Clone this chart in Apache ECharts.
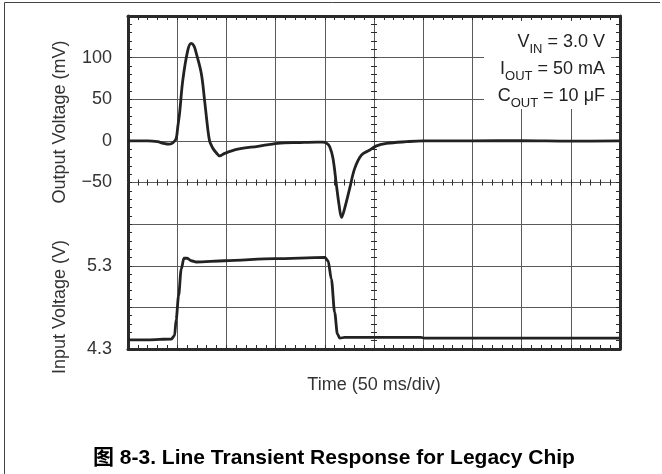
<!DOCTYPE html>
<html>
<head>
<meta charset="utf-8">
<script src="https://cdn.jsdelivr.net/npm/echarts@6/dist/echarts.min.js"></script>
<style>
html,body{margin:0;padding:0;background:#fff;}
#chart{width:662px;height:474px;}
</style>
</head>
<body>
<div id="chart"></div>
<script>
// ---- data (time in ms, 50 ms/div) ----
const outTime = [0, 20, 30, 36, 42, 46, 49, 50.6, 52.4, 55.7, 60.8, 64.2, 67, 69.4, 74.5, 77.8, 81.2, 82.9, 84.6, 86.3, 89.5, 93.1, 98.2, 111.7, 132, 152, 175, 192, 198, 202, 205, 208.3, 211.8, 214.5, 217, 220.2, 225.3, 230.4, 237.2, 245.7, 252.5, 262.7, 283, 300, 350, 400, 450, 500];
const outMv   = [0, 0, -1, -3, -4, -2, 3, 17, 33, 73, 109, 117, 114, 105, 81, 49, 13, 0, -5, -9, -14, -18, -15, -10, -6.5, -3, -2, -1.5, -1.5, -3, -7, -21, -53, -77, -92, -81, -57, -33, -17, -11, -6, -3, -1, 0, 0, 0.3, -0.3, 0];
const inTime  = [0, 20, 44, 47.3, 49, 51.4, 54.1, 56.8, 60.2, 64.3, 69.4, 98.2, 149, 200, 203.3, 206.7, 210, 212.8, 215.2, 220.3, 297.5, 301.6, 500];
const inVolt  = [4.41, 4.41, 4.42, 4.46, 4.66, 4.94, 5.26, 5.39, 5.39, 5.36, 5.345, 5.36, 5.385, 5.40, 5.36, 5.14, 4.74, 4.48, 4.43, 4.44, 4.44, 4.43, 4.43];
const mvTickLabels = [100, 50, 0, -50];
const vTickLabels = [4.3, 5.3];

const FONT = "'Liberation Sans', Arial, 'Noto Sans CJK SC', sans-serif";
const GRID_COLOR = '#5a5a5a';
const BORDER = '#2a2a2a';

const zip = (a, b) => a.map((v, i) => [v, b[i]]);

const chart = echarts.init(document.getElementById('chart'));

const timeAxisBase = {
  type: 'value', min: 0, max: 500, interval: 50,
  axisLabel: { show: false },
  splitLine: { show: false }
};
const mvAxisBase = {
  type: 'value', min: -250, max: 150, interval: 50,
  splitLine: { show: false }
};

const option = {
  animation: false,
  backgroundColor: '#fff',
  textStyle: { fontFamily: FONT },
  title: {
    text: '图 8-3. Line Transient Response for Legacy Chip',
    left: 93, top: 448, padding: 0,
    textStyle: { fontFamily: FONT, fontSize: 21, fontWeight: 'bold', color: '#000' }
  },
  grid: { left: 128, top: 16, width: 492, height: 333, containLabel: false },
  xAxis: [
    Object.assign({}, timeAxisBase, {
      position: 'bottom',
      name: 'Time (50 ms/div)', nameLocation: 'middle', nameGap: 27,
      nameTextStyle: { fontFamily: FONT, fontSize: 18, color: '#333' },
      axisLine: { show: true, onZero: false, lineStyle: { color: BORDER, width: 3 } },
      axisTick: { show: true, inside: true, length: 4, lineStyle: { color: BORDER, width: 1 } },
      minorTick: { show: true, splitNumber: 5, length: 4, lineStyle: { color: BORDER, width: 1 } },
      splitLine: { show: true, lineStyle: { color: GRID_COLOR, width: 1 } }
    }),
    Object.assign({}, timeAxisBase, {
      position: 'top',
      axisLine: { show: true, onZero: false, lineStyle: { color: BORDER, width: 3 } },
      axisTick: { show: true, inside: true, length: 4, lineStyle: { color: BORDER, width: 1 } },
      minorTick: { show: true, splitNumber: 5, length: 4, lineStyle: { color: BORDER, width: 1 } }
    }),
    { type: 'value', min: -1, max: 1, show: false },
    Object.assign({}, timeAxisBase, {
      position: 'bottom',
      axisLine: { show: true, onZero: true, onZeroAxisIndex: 3, lineStyle: { color: GRID_COLOR, width: 1 } },
      axisTick: { show: true, inside: true, length: 3, lineStyle: { color: BORDER, width: 1 } },
      minorTick: { show: true, splitNumber: 5, length: 3, lineStyle: { color: BORDER, width: 1 } }
    }),
    Object.assign({}, timeAxisBase, {
      position: 'bottom',
      axisLine: { show: true, onZero: true, onZeroAxisIndex: 3, lineStyle: { color: GRID_COLOR, width: 1 } },
      axisTick: { show: true, inside: false, length: 3, lineStyle: { color: BORDER, width: 1 } },
      minorTick: { show: true, splitNumber: 5, length: 3, lineStyle: { color: BORDER, width: 1 } }
    })
  ],
  yAxis: [
    Object.assign({}, mvAxisBase, {
      position: 'left',
      axisLine: { show: true, onZero: false, lineStyle: { color: BORDER, width: 3 } },
      axisTick: { show: true, inside: true, length: 4, lineStyle: { color: BORDER, width: 1 } },
      minorTick: { show: true, splitNumber: 5, length: 4, lineStyle: { color: BORDER, width: 1 } },
      splitLine: { show: true, lineStyle: { color: GRID_COLOR, width: 1 } },
      axisLabel: {
        show: true, customValues: mvTickLabels, margin: 16,
        fontFamily: FONT, fontSize: 18, color: '#333',
        formatter: v => (v < 0 ? '\u2212' + Math.abs(v) : String(v))
      }
    }),
    {
      type: 'value', min: 4.3, max: 8.3, position: 'left',
      axisLine: { show: false, onZero: false },
      axisTick: { show: false },
      splitLine: { show: false },
      axisLabel: {
        show: true, customValues: vTickLabels, margin: 16,
        fontFamily: FONT, fontSize: 18, color: '#333',
        formatter: v => v.toFixed(1)
      }
    },
    Object.assign({}, mvAxisBase, {
      position: 'right',
      axisLabel: { show: false },
      axisLine: { show: true, onZero: false, lineStyle: { color: BORDER, width: 3 } },
      axisTick: { show: true, inside: true, length: 4, lineStyle: { color: BORDER, width: 1 } },
      minorTick: { show: true, splitNumber: 5, length: 4, lineStyle: { color: BORDER, width: 1 } }
    }),
    { type: 'value', min: -1, max: 1, show: false },
    Object.assign({}, mvAxisBase, {
      position: 'left',
      axisLabel: { show: false },
      axisLine: { show: true, onZero: true, onZeroAxisIndex: 2, lineStyle: { color: GRID_COLOR, width: 1 } },
      axisTick: { show: true, inside: true, length: 3, lineStyle: { color: BORDER, width: 1 } },
      minorTick: { show: true, splitNumber: 5, length: 3, lineStyle: { color: BORDER, width: 1 } }
    }),
    Object.assign({}, mvAxisBase, {
      position: 'left',
      axisLabel: { show: false },
      axisLine: { show: true, onZero: true, onZeroAxisIndex: 2, lineStyle: { color: GRID_COLOR, width: 1 } },
      axisTick: { show: true, inside: false, length: 3, lineStyle: { color: BORDER, width: 1 } },
      minorTick: { show: true, splitNumber: 5, length: 3, lineStyle: { color: BORDER, width: 1 } }
    })
  ],
  series: [
    {
      name: 'Output Voltage', type: 'line', xAxisIndex: 0, yAxisIndex: 0,
      data: zip(outTime, outMv), showSymbol: false, smooth: 0.35,
      lineStyle: { color: '#222', width: 2.8 }, z: 5
    },
    {
      name: 'Input Voltage', type: 'line', xAxisIndex: 0, yAxisIndex: 1,
      data: zip(inTime, inVolt), showSymbol: false, smooth: 0.3, smoothMonotone: 'x',
      lineStyle: { color: '#222', width: 2.8 }, z: 5
    }
  ],
  graphic: [
    { type: 'polyline', shape: { points: [[4.5, 474], [4.5, 2.5], [660, 2.5]] },
      style: { stroke: '#444', lineWidth: 1, fill: null }, z: 1 },
    { type: 'rect', shape: { x: 484, y: 21, width: 127, height: 88 },
      style: { fill: '#fff' }, z: 50 },
    { type: 'text', x: 605, y: 29, z: 51,
      style: {
        text: '{n|V}{s|IN}{n| = 3.0 V}\n{n|I}{s|OUT}{n| = 50 mA}\n{n|C}{s|OUT}{n| = 10 \u03bcF}',
        align: 'right', verticalAlign: 'top',
        fill: '#222',
        rich: {
          n: { fontFamily: FONT, fontSize: 18, lineHeight: 27, fill: '#222', verticalAlign: 'middle' },
          s: { fontFamily: FONT, fontSize: 13, lineHeight: 12, fill: '#222', verticalAlign: 'bottom' }
        }
      }
    },
    { type: 'text', x: 60, y: 122, rotation: Math.PI / 2, z: 10,
      style: { text: 'Output Voltage (mV)', fontFamily: FONT, fontSize: 18, fill: '#333',
        align: 'center', verticalAlign: 'middle' } },
    { type: 'text', x: 60, y: 307, rotation: Math.PI / 2, z: 10,
      style: { text: 'Input Voltage (V)', fontFamily: FONT, fontSize: 18, fill: '#333',
        align: 'center', verticalAlign: 'middle' } }
  ]
};
chart.setOption(option);
</script>
</body>
</html>
